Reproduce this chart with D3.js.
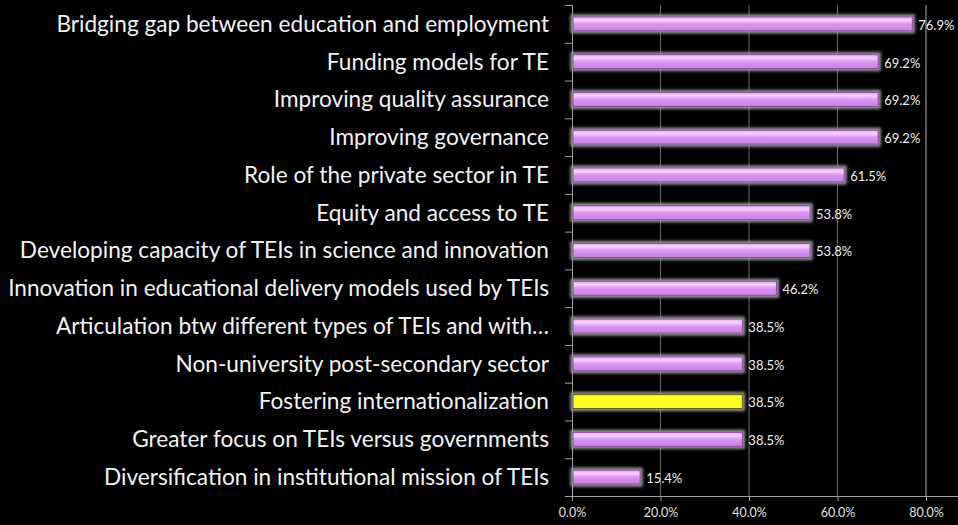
<!DOCTYPE html>
<html><head><meta charset="utf-8">
<script src="https://cdn.jsdelivr.net/npm/d3@7"></script>
<style>html,body{margin:0;padding:0;background:#000;overflow:hidden}</style>
</head><body>
<svg id="c" width="958" height="525"></svg>
<script>
const categories = [
  "Bridging gap between education and employment",
  "Funding models for TE",
  "Improving quality assurance",
  "Improving governance",
  "Role of the private sector in TE",
  "Equity and access to TE",
  "Developing capacity of TEIs in science and innovation",
  "Innovation in educational delivery models used by TEIs",
  "Articulation btw different types of TEIs and with…",
  "Non-university post-secondary sector",
  "Fostering internationalization",
  "Greater focus on TEIs versus governments",
  "Diversification in institutional mission of TEIs"
];
const values = [76.9, 69.2, 69.2, 69.2, 61.5, 53.8, 53.8, 46.2, 38.5, 38.5, 38.5, 38.5, 15.4];
const highlighted = ["Fostering internationalization"];
const tickValues = [0, 20, 40, 60, 80];

(function(){
const svg = d3.select("#c");
const x0 = 572, xEnd = 958, yTop = 5, yBot = 496;
const x = d3.scaleLinear().domain([0, 80]).range([x0, 926]);
const y = d3.scaleBand().domain(categories).range([yTop, yBot]).paddingInner(0.63).paddingOuter(0.315);
const band = d3.scaleBand().domain(categories).range([yTop, yBot]);
const FONT = "Lato, 'Open Sans', sans-serif";

const defs = svg.append("defs");
const g1 = defs.append("linearGradient").attr("id","pg").attr("x1",0).attr("x2",0).attr("y1",0).attr("y2",1);
g1.append("stop").attr("offset","0%").attr("stop-color","#e9a8f8");
g1.append("stop").attr("offset","25%").attr("stop-color","#f6d2ff");
g1.append("stop").attr("offset","50%").attr("stop-color","#dc95f2");
g1.append("stop").attr("offset","100%").attr("stop-color","#c97fe6");
const f = defs.append("filter").attr("id","glow").attr("x","-20%").attr("y","-80%").attr("width","140%").attr("height","260%");
f.append("feMorphology").attr("in","SourceAlpha").attr("operator","dilate").attr("radius",2).attr("result","d");
f.append("feGaussianBlur").attr("in","d").attr("stdDeviation",1.6).attr("result","b");
f.append("feFlood").attr("flood-color","#9a9a9a").attr("result","fc");
f.append("feComposite").attr("in","fc").attr("in2","b").attr("operator","in").attr("result","sh");
const fm = f.append("feMerge");
fm.append("feMergeNode").attr("in","sh");
fm.append("feMergeNode").attr("in","SourceGraphic");

// gridlines
svg.append("g").selectAll("line").data(tickValues.filter(d=>d>0)).join("line")
  .attr("x1",d=>x(d)).attr("x2",d=>x(d)).attr("y1",yTop).attr("y2",yBot)
  .attr("stroke",d=>d===80?"#b0b0b0":"#6a6a6a").attr("stroke-width",1);

// x axis
const xAxis = d3.axisBottom(x).tickValues(tickValues).tickFormat(d=>d.toFixed(1)+"%").tickSize(5).tickSizeOuter(0);
const gx = svg.append("g").attr("transform",`translate(0,${yBot})`).call(xAxis);
gx.select(".domain").remove();
gx.append("line").attr("x1",565).attr("x2",xEnd).attr("y1",0.5).attr("y2",0.5).attr("stroke","#a0a0a0");
gx.selectAll(".tick line").attr("stroke","#a0a0a0");
gx.selectAll(".tick text").attr("fill","#e0e0e0").attr("font-family",FONT).attr("font-size",12.5).attr("dy","1.05em");

// y axis
const ga = svg.append("g");
ga.append("line").attr("x1",x0+0.5).attr("x2",x0+0.5).attr("y1",yTop).attr("y2",yBot).attr("stroke","#a0a0a0");
ga.selectAll("line.tk").data(categories.concat(["__end"])).join("line").attr("class","tk")
  .attr("x1",565).attr("x2",x0)
  .attr("y1",(d,i)=>yTop + i*band.bandwidth()+0.5).attr("y2",(d,i)=>yTop + i*band.bandwidth()+0.5)
  .attr("stroke","#a0a0a0");

// category labels
const labs = svg.append("g").selectAll("text").data(categories).join("text")
  .attr("x",549).attr("y",d=>band(d)+band.bandwidth()/2).attr("dy","0.35em")
  .attr("text-anchor","end").attr("fill","#f2f2f2")
  .attr("font-family",FONT).attr("font-size",19)
  .text(d=>d);
const wMax = d3.max(labs.nodes(), n=>n.getComputedTextLength());
labs.attr("font-size",19*541/wMax);

// bars
svg.append("g").selectAll("rect").data(categories).join("rect")
  .attr("x",x0+1).attr("y",d=>y(d)).attr("height",y.bandwidth())
  .attr("width",(d,i)=>x(values[i])-x0-1)
  .attr("fill",d=>highlighted.includes(d)?"#ffff22":"url(#pg)")
  .attr("stroke",d=>highlighted.includes(d)?"#5a5a10":"#8a4aa0").attr("stroke-width",1)
  .attr("filter","url(#glow)");

// value labels
svg.append("g").selectAll("text").data(categories).join("text")
  .attr("x",(d,i)=>x(values[i])+6).attr("y",d=>y(d)+y.bandwidth()/2).attr("dy","0.45em")
  .attr("fill","#f0f0f0").attr("font-family",FONT).attr("font-size",13)
  .text((d,i)=>values[i].toFixed(1)+"%");
})();
</script>
</body></html>
